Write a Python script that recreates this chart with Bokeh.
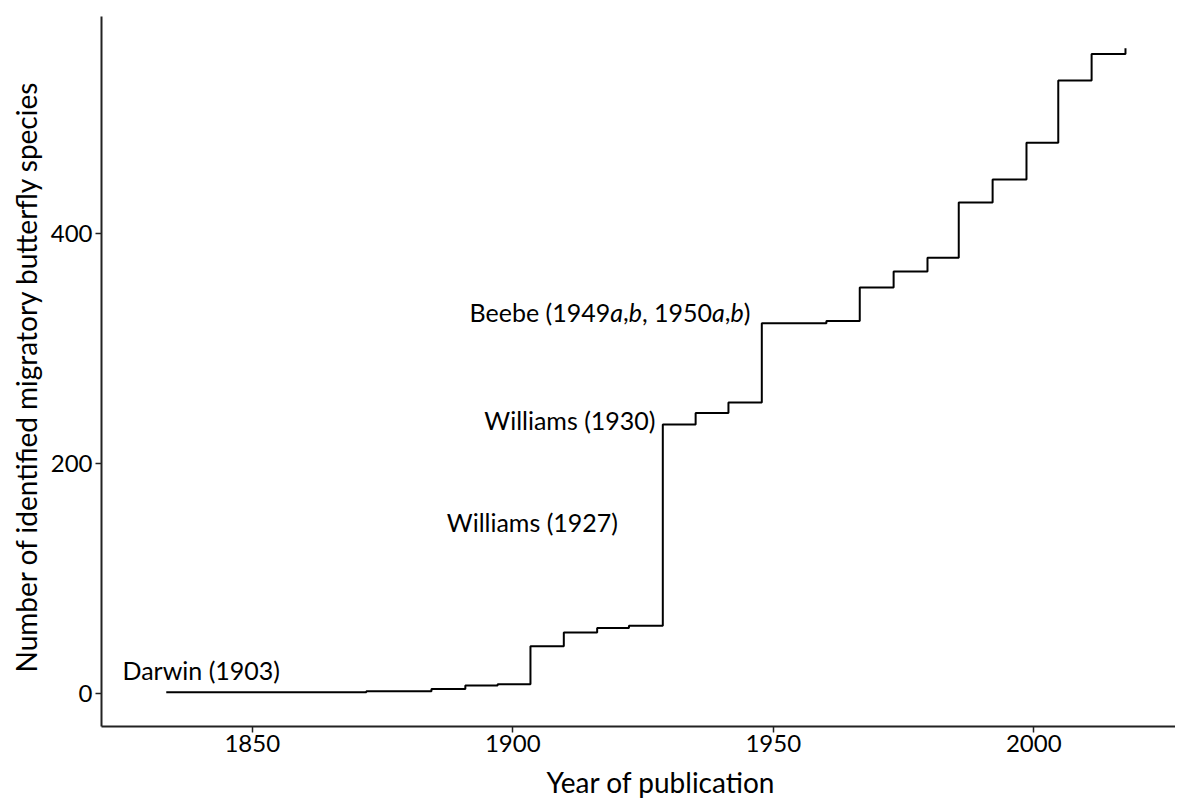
import struct, glob, subprocess
from bokeh.plotting import figure
from bokeh.models import Range1d, FixedTicker, ColumnDataSource, Title
from bokeh.core.properties import value
from bokeh.embed import file_html
from bokeh.resources import INLINE

# Cumulative number of identified migratory butterfly species (step after each year)
years = [1833.5, 1871.9, 1884.4, 1890.9, 1897.1, 1903.4, 1909.8, 1916.2, 1922.3,
         1928.8, 1935.1, 1941.4, 1947.8, 1960.2, 1966.6, 1973.1, 1979.6, 1985.6,
         1992.1, 1998.6, 2004.7, 2011.1, 2017.6]
species = [1, 2, 4, 7, 8, 41, 53, 57, 59,
           234, 244, 253, 322, 324, 353, 367, 379, 427,
           447, 479, 533, 556, 561]

x_ticks = [1850, 1900, 1950, 2000]
y_ticks = [0, 200, 400]

# Annotations
ann_plain_text = ["Darwin (1903)", "Williams (1927)", "Williams (1930)"]
ann_plain_x = [1825.1, 1920.2, 1927.4]
ann_plain_y = [20.0, 149.0, 237.4]
ann_plain_align = ["left", "right", "right"]

beebe_x = 1891.7
beebe_y = 331.6
beebe_parts = ["Beebe (1949", "a", ",", "b", ", 1950", "a", ",", "b", ")"]
beebe_style = ["normal", "italic", "normal", "italic", "normal", "italic", "normal", "italic", "normal"]

x_title = "Year of publication"
y_title = "Number of identified migratory butterfly species"

FONT = "Lato"
ANN_SIZE = 25
TITLE_SIZE = 28


# --- text width measurement from the installed font files (for the mixed-style label) ---
def _find_font(pattern, name_hint):
    try:
        out = subprocess.run(["fc-match", "-f", "%{file}", pattern], capture_output=True,
                             text=True, timeout=5).stdout.strip()
        if out and name_hint.lower() in out.lower() and out.lower().endswith((".ttf", ".otf")):
            return out
    except Exception:
        pass
    hits = glob.glob("/usr/share/fonts/**/" + name_hint + "*", recursive=True)
    return hits[0] if hits else None


def _width_fn(path):
    data = open(path, "rb").read()
    n_tables = struct.unpack(">H", data[4:6])[0]
    tables = {}
    for i in range(n_tables):
        tag, _, off, ln = struct.unpack(">4sIII", data[12 + 16 * i:28 + 16 * i])
        tables[tag.decode("latin1")] = off
    head = tables["head"]
    upem = struct.unpack(">H", data[head + 18:head + 20])[0]
    hhea = tables["hhea"]
    nhm = struct.unpack(">H", data[hhea + 34:hhea + 36])[0]
    hmtx = tables["hmtx"]
    adv = [struct.unpack(">H", data[hmtx + 4 * i:hmtx + 4 * i + 2])[0] for i in range(nhm)]
    cmap = tables["cmap"]
    nsub = struct.unpack(">H", data[cmap + 2:cmap + 4])[0]
    sub = None
    for i in range(nsub):
        pid, eid, off = struct.unpack(">HHI", data[cmap + 4 + 8 * i:cmap + 12 + 8 * i])
        fmt = struct.unpack(">H", data[cmap + off:cmap + off + 2])[0]
        if fmt == 4 and pid in (0, 3):
            sub = cmap + off
            break
    segx2 = struct.unpack(">H", data[sub + 6:sub + 8])[0]
    segs = segx2 // 2
    ends = struct.unpack(">%dH" % segs, data[sub + 14:sub + 14 + segx2])
    so = sub + 16 + segx2
    starts = struct.unpack(">%dH" % segs, data[so:so + segx2])
    do = so + segx2
    deltas = struct.unpack(">%dh" % segs, data[do:do + segx2])
    ro = do + segx2
    ros = struct.unpack(">%dH" % segs, data[ro:ro + segx2])

    def gid(ch):
        c = ord(ch)
        for i in range(segs):
            if ends[i] >= c:
                if starts[i] > c:
                    return 0
                if ros[i] == 0:
                    return (c + deltas[i]) & 0xFFFF
                addr = ro + 2 * i + ros[i] + 2 * (c - starts[i])
                g = struct.unpack(">H", data[addr:addr + 2])[0]
                return (g + deltas[i]) & 0xFFFF if g else 0
        return 0

    def width(s, size):
        return sum(adv[min(gid(ch), nhm - 1)] for ch in s) * size / upem
    return width


_fallback = {"B": .62, "e": .53, "b": .55, "a": .50, " ": .193, "(": .30, ")": .30, ",": .21}


def _fallback_width(s, size):
    return sum(_fallback.get(ch, .55) for ch in s) * size


width_normal = _fallback_width
width_italic = _fallback_width
try:
    pr = _find_font("Lato:style=Regular", "Lato-Regular")
    pi = _find_font("Lato:style=Italic", "Lato-Italic")
    if pr:
        width_normal = _width_fn(pr)
    if pi:
        width_italic = _width_fn(pi)
except Exception:
    width_normal = width_italic = _fallback_width

beebe_offs = []
acc = 0.0
for part, st in zip(beebe_parts, beebe_style):
    beebe_offs.append(round(acc, 2))
    acc += (width_italic if st == "italic" else width_normal)(part, ANN_SIZE)

FRAME_LEFT = 101
FRAME_BOTTOM = 726
p = figure(width=1175, height=798,
           x_range=Range1d(1821.07, 2027.2), y_range=Range1d(-28.7, 588.7),
           output_backend="svg", toolbar_location=None,
           min_border_left=FRAME_LEFT, min_border_right=0, min_border_top=16, min_border_bottom=72)

p.outline_line_color = None
p.grid.visible = False
p.background_fill_color = "white"
p.border_fill_color = "white"

p.step(x=years, y=species, mode="after", line_color="black", line_width=2)

src = ColumnDataSource(dict(x=ann_plain_x, y=ann_plain_y, t=ann_plain_text, a=ann_plain_align))
p.text(x="x", y="y", text="t", text_align="a", source=src, text_baseline="alphabetic",
       text_font=value(FONT), text_font_size="%dpx" % ANN_SIZE, text_color="black")

bsrc = ColumnDataSource(dict(x=[beebe_x] * len(beebe_parts), y=[beebe_y] * len(beebe_parts),
                             t=beebe_parts, s=beebe_style, o=beebe_offs))
p.text(x="x", y="y", text="t", x_offset="o", text_font_style="s", source=bsrc,
       text_align="left", text_baseline="alphabetic",
       text_font=value(FONT), text_font_size="%dpx" % ANN_SIZE, text_color="black")

for ax in (p.xaxis[0], p.yaxis[0]):
    ax.axis_line_color = "#222222"
    ax.axis_line_width = 2
    ax.major_tick_line_color = "#222222"
    ax.major_tick_line_width = 1.5
    ax.major_tick_in = 0
    ax.major_tick_out = 6
    ax.minor_tick_line_color = None
    ax.major_label_text_font = FONT
    ax.major_label_text_font_size = "24px"
    ax.major_label_text_color = "black"

p.xaxis.ticker = FixedTicker(ticks=x_ticks)
p.yaxis.ticker = FixedTicker(ticks=y_ticks)
p.xaxis.major_label_standoff = 2
p.yaxis.major_label_standoff = 3

# small empty spacer between the x tick labels and the x title
p.add_layout(Title(text=" ", text_font_size="5px", standoff=0), "below")

# x-axis title placed where the reference has it
x_title_offset = 662 - FRAME_LEFT - width_normal(x_title, TITLE_SIZE) / 2
p.add_layout(Title(text=x_title, align="left", offset=x_title_offset, standoff=0,
                   text_font=FONT, text_font_size="%dpx" % TITLE_SIZE,
                   text_font_style="normal", text_color="black"), "below")

# y-axis title, starting where the reference text starts
p.add_layout(Title(text=y_title, align="left", offset=FRAME_BOTTOM - 672, standoff=10,
                   text_font=FONT, text_font_size="%dpx" % TITLE_SIZE,
                   text_font_style="normal", text_color="black"), "left")

open("out.html", "w").write(file_html(p, INLINE))
